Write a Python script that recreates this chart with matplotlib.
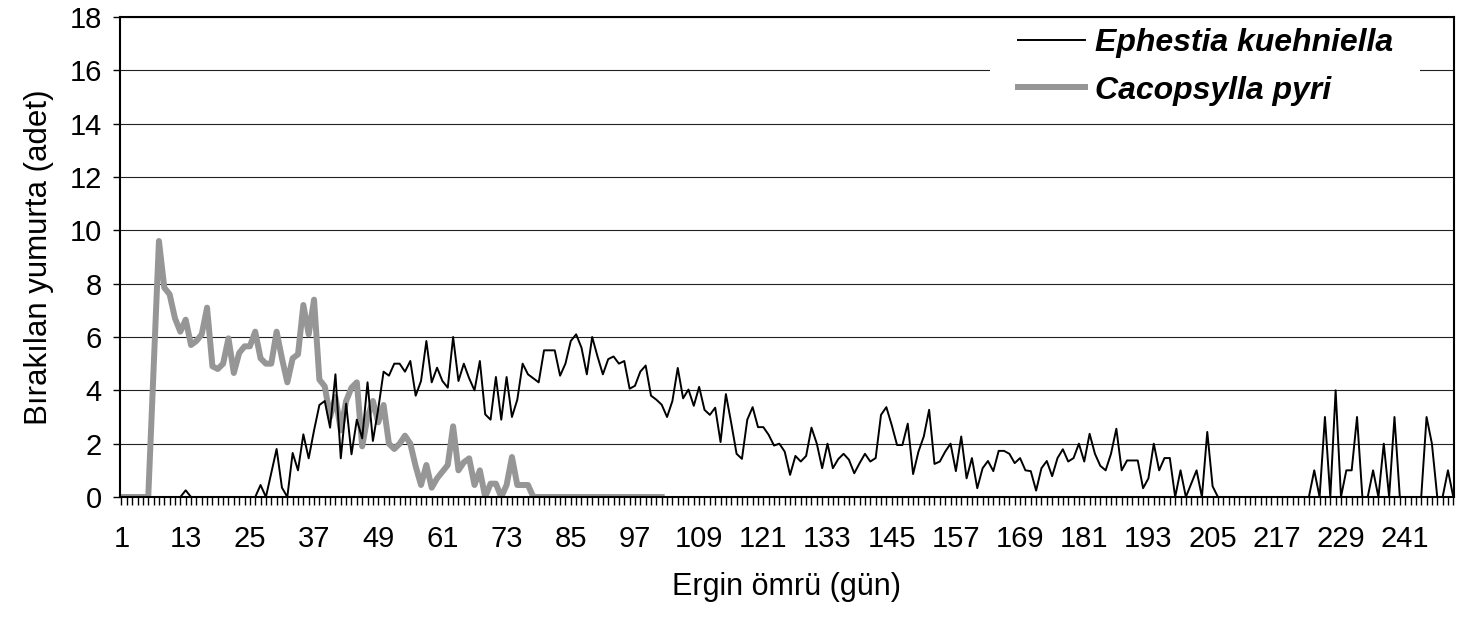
import numpy as np
import matplotlib
matplotlib.use("Agg")
from matplotlib import pyplot as plt
from matplotlib.patches import Rectangle

plt.rcParams['font.family'] = ['Liberation Sans', 'DejaVu Sans']

# eggs laid per day, days 1..250
ephestia = [
	0, 0, 0, 0, 0, 0, 0, 0, 0, 0,
	0, 0, 0.25, 0, 0, 0, 0, 0, 0, 0,
	0, 0, 0, 0, 0, 0, 0.45, 0, 0.9, 1.8,
	0.35, 0, 1.65, 1.0, 2.35, 1.45, 2.5, 3.45, 3.6, 2.6,
	4.6, 1.45, 3.5, 1.6, 2.9, 2.2, 4.3, 2.1, 3.3, 4.7,
	4.55, 5.0, 5.0, 4.7, 5.1, 3.8, 4.35, 5.85, 4.3, 4.85,
	4.35, 4.1, 6.0, 4.35, 5.0, 4.45, 4.0, 5.1, 3.1, 2.9,
	4.5, 2.9, 4.5, 3.0, 3.65, 5.0, 4.6, 4.45, 4.3, 5.5,
	5.5, 5.5, 4.55, 5.0, 5.85, 6.1, 5.6, 4.6, 6.0, 5.27,
	4.6, 5.17, 5.27, 5.0, 5.1, 4.06, 4.17, 4.7, 4.93, 3.8,
	3.65, 3.46, 3.0, 3.6, 4.84, 3.7, 4.03, 3.42, 4.13, 3.27,
	3.08, 3.35, 2.06, 3.86, 2.77, 1.62, 1.43, 2.9, 3.37, 2.62,
	2.62, 2.33, 1.93, 2.0, 1.7, 0.83, 1.54, 1.33, 1.54, 2.6,
	2.0, 1.08, 2.0, 1.08, 1.42, 1.62, 1.4, 0.89, 1.27, 1.62,
	1.33, 1.46, 3.08, 3.37, 2.7, 1.95, 1.95, 2.75, 0.86, 1.7,
	2.27, 3.27, 1.24, 1.33, 1.7, 2.0, 0.97, 2.27, 0.7, 1.46,
	0.33, 1.08, 1.35, 0.97, 1.73, 1.73, 1.62, 1.27, 1.46, 1.0,
	0.97, 0.24, 1.08, 1.35, 0.78, 1.46, 1.79, 1.33, 1.46, 2.0,
	1.33, 2.37, 1.62, 1.17, 1.0, 1.62, 2.56, 1.0, 1.37, 1.37,
	1.37, 0.33, 0.7, 2.0, 1.0, 1.46, 1.46, 0, 1.0, 0,
	0.5, 1.0, 0, 2.44, 0.4, 0, 0, 0, 0, 0,
	0, 0, 0, 0, 0, 0, 0, 0, 0, 0,
	0, 0, 0, 1.0, 0, 3.0, 0, 4.0, 0, 1.0,
	1.0, 3.0, 0, 0, 1.0, 0, 2.0, 0, 3.0, 0,
	0, 0, 0, 0, 3.0, 2.0, 0, 0, 1.0, 0,
]

# days 1..102
cacopsylla = [
	0, 0, 0, 0, 0, 0, 4.8, 9.6, 7.85, 7.6,
	6.7, 6.2, 6.65, 5.7, 5.85, 6.1, 7.1, 4.9, 4.8, 5.0,
	5.95, 4.65, 5.4, 5.65, 5.65, 6.2, 5.2, 5.0, 5.0, 6.2,
	5.2, 4.3, 5.2, 5.35, 7.2, 6.1, 7.4, 4.4, 4.15, 3.0,
	3.75, 2.5, 3.6, 4.1, 4.3, 1.9, 3.0, 3.6, 2.8, 3.45,
	2.0, 1.8, 2.0, 2.3, 2.0, 1.15, 0.45, 1.2, 0.35, 0.7,
	0.95, 1.2, 2.65, 1.0, 1.3, 1.45, 0.45, 1.0, 0, 0.5,
	0.5, 0, 0.45, 1.5, 0.45, 0.45, 0.45, 0, 0, 0,
	0, 0, 0, 0, 0, 0, 0, 0, 0, 0,
	0, 0, 0, 0, 0, 0, 0, 0, 0, 0,
	0, 0,
]

days_e = np.arange(1, len(ephestia)+1)
days_c = np.arange(1, len(cacopsylla)+1)
xlabels = np.arange(1, 250, 12)

W, H = 1459, 623
fig = plt.figure(figsize=(W/100, H/100), dpi=100)
ax = fig.add_axes([120/W, 1-497/H, 1334/W, 480/H])

ax.plot(days_e, ephestia, color='black', lw=1.4, label='Ephestia kuehniella', zorder=3)
ax.plot(days_c, cacopsylla, color='#969696', lw=4.3, label='Cacopsylla pyri', zorder=2,
	solid_joinstyle='round')

ax.set_xlim(0.72, 250.13)
ax.set_ylim(0, 18)
ax.set_yticks(np.arange(0, 19, 2))
ax.set_xticks(xlabels)
ax.set_xticks(days_e, minor=True)
ax.tick_params(axis='x', which='both', direction='out', length=6, width=1, labelsize=21, pad=14)
ax.tick_params(axis='y', direction='out', length=5, width=1, labelsize=21, pad=8)
ax.yaxis.grid(True, color='#222222', lw=0.8)
ax.set_axisbelow(True)
for s in ax.spines.values():
	s.set_linewidth(1.5)

ax.set_xlabel('Ergin ömrü (gün)', fontsize=22, labelpad=14)
ax.set_ylabel('Bırakılan yumurta (adet)', fontsize=22.5, labelpad=11)

# white area behind the legend
ax.add_patch(Rectangle((0.652, 0.80), 0.3225, 0.19, transform=ax.transAxes,
	facecolor='white', edgecolor='none', zorder=1))
leg = ax.legend(loc='upper left', bbox_to_anchor=(1018/W, 1-28/H), bbox_transform=fig.transFigure,
	frameon=False, borderpad=0, borderaxespad=0, handlelength=2.1, handletextpad=0.32,
	labelspacing=0.55, prop={'size': 23, 'weight': 'bold', 'style': 'italic'})

fig.savefig('out.png', dpi=100)
